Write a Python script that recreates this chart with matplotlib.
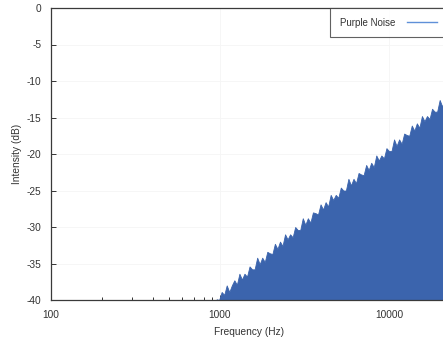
import matplotlib
matplotlib.use("Agg")
import matplotlib.pyplot as plt
from matplotlib.lines import Line2D
from matplotlib.ticker import FixedLocator, LogLocator, NullFormatter

# Spectrum of purple noise (+6 dB/octave), sampled on a log-frequency grid
freq_hz = [
    955, 988, 1023, 1059, 1096, 1135, 1175, 1216, 1259, 1303,
    1349, 1396, 1445, 1496, 1549, 1603, 1660, 1718, 1778, 1841,
    1905, 1972, 2042, 2113, 2188, 2265, 2344, 2427, 2512, 2600,
    2692, 2786, 2884, 2985, 3090, 3199, 3311, 3428, 3548, 3673,
    3802, 3936, 4074, 4217, 4365, 4519, 4677, 4842, 5012, 5188,
    5370, 5559, 5754, 5957, 6166, 6383, 6607, 6839, 7079, 7328,
    7586, 7852, 8128, 8414, 8710, 9016, 9333, 9661, 10000, 10351,
    10715, 11092, 11482, 11885, 12303, 12735, 13183, 13646, 14125, 14622,
    15136, 15668, 16218, 16788, 17378, 17989, 18621, 19275, 19953, 20654,
    21380, 22131,
]
intensity_db = [
    -39.9, -40.0, -38.9, -39.3, -38.0, -38.9, -38.0, -37.3, -37.9, -36.4,
    -37.2, -36.4, -36.8, -35.4, -35.8, -35.8, -34.2, -35.1, -34.2, -34.8,
    -33.4, -33.6, -33.7, -32.3, -33.0, -32.0, -32.6, -31.0, -31.7, -31.0,
    -31.4, -30.0, -30.4, -30.4, -28.8, -29.7, -28.8, -29.4, -28.0, -28.1,
    -28.3, -26.9, -27.6, -26.6, -27.2, -25.6, -26.3, -25.6, -26.0, -24.6,
    -25.0, -25.0, -23.4, -24.3, -23.4, -24.0, -22.6, -22.8, -22.9, -21.5,
    -22.2, -21.2, -21.8, -20.2, -20.9, -20.2, -20.6, -19.2, -19.6, -19.6,
    -18.0, -18.9, -18.0, -18.6, -17.2, -17.4, -17.5, -16.1, -16.8, -15.8,
    -16.4, -14.8, -15.5, -14.8, -15.2, -13.8, -14.2, -14.2, -12.6, -13.5,
    -12.6, -13.2,
]

series_label = "Purple Noise"
x_label = "Frequency (Hz)"
y_label = "Intensity (dB)"
x_major = [100, 1000, 10000]
x_major_labels = ["100", "1000", "10000"]
y_major = [0, -5, -10, -15, -20, -25, -30, -35, -40]
y_major_labels = ["0", "-5", "-10", "-15", "-20", "-25", "-30", "-35", "-40"]

FILL = "#3b64ad"
LEGEND_LINE = "#5f90d8"
TEXT = "#333333"

plt.rcParams["font.family"] = ["Liberation Sans", "DejaVu Sans"]

W, H = 443, 341
fig = plt.figure(figsize=(W / 100, H / 100), dpi=100)
fig.patch.set_facecolor("white")

# axes: left edge at x=51px, bottom at y=300px, top at y=8px; right edge runs slightly past the canvas
ax = fig.add_axes([51 / W, 41 / H, 396 / W, 292 / H])

ax.fill_between(freq_hz, intensity_db, -40, color=FILL, linewidth=0.6,
                edgecolor=FILL, zorder=2)

ax.set_xscale("log")
ax.set_xlim(100, 22050)
ax.set_ylim(-40, 0)

ax.xaxis.set_major_locator(FixedLocator(x_major))
ax.set_xticklabels(x_major_labels)
ax.xaxis.set_minor_locator(LogLocator(base=10, subs=range(2, 10)))
ax.xaxis.set_minor_formatter(NullFormatter())
ax.yaxis.set_major_locator(FixedLocator(y_major))
ax.set_yticklabels(y_major_labels)

ax.tick_params(which="both", direction="in", top=False, right=False,
               colors=TEXT, labelsize=7.3, width=0.7)
ax.tick_params(which="major", length=3.5, pad=7)
ax.tick_params(which="minor", length=2)
for lbl in ax.get_xticklabels() + ax.get_yticklabels():
    lbl.set_color(TEXT)

ax.grid(True, which="major", color="#f5f5f5", linewidth=0.6, zorder=0)

for s in ax.spines.values():
    s.set_color("#3a3a3a")
    s.set_linewidth(0.9)

ax.set_xlabel(x_label, fontsize=7.3, color=TEXT, labelpad=5)
ax.set_ylabel(y_label, fontsize=7.3, color=TEXT, labelpad=3)

handle = Line2D([], [], color=LEGEND_LINE, linewidth=1.0)
leg = ax.legend([handle], [series_label], loc="upper right",
                bbox_to_anchor=(1.0, 1.0), borderaxespad=0.0,
                markerfirst=False, fontsize=7, frameon=True, fancybox=False,
                handlelength=3.1, handletextpad=1.2, borderpad=1.0)
leg.get_frame().set_edgecolor("#3a3a3a")
leg.get_frame().set_linewidth(0.8)
for t in leg.get_texts():
    t.set_color(TEXT)

fig.savefig("out.png", dpi=100)
